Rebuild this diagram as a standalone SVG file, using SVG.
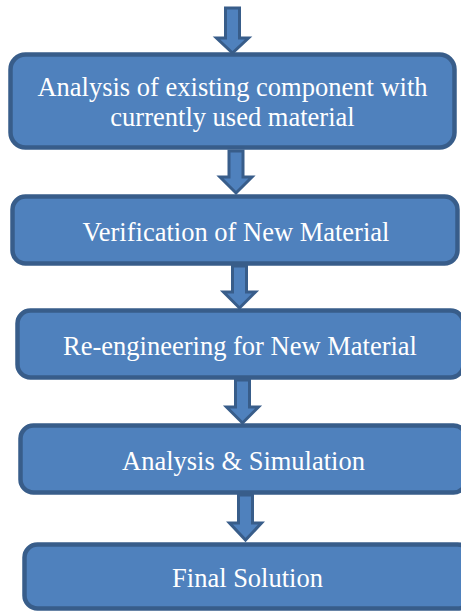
<svg xmlns="http://www.w3.org/2000/svg" width="461" height="612" viewBox="0 0 461 612">
  <style>
    .box { fill: #4f81bd; stroke: #385d8a; stroke-width: 4.5; }
    .arrow { fill: #4f81bd; stroke: #385d8a; stroke-width: 3; stroke-linejoin: miter; }
    .label { font-family: 'Liberation Serif', 'Times New Roman', serif; font-size: 26.5px; fill: #ffffff; text-anchor: middle; }
  </style>
  <rect width="461" height="612" fill="#ffffff"/>

  <!-- block arrows between the process steps -->
  <g id="connectors">
    <path class="arrow" d="M225.5,8 H239.5 V38 H248.5 L232.5,53 L216.5,38 H225.5 Z"/>
    <path class="arrow" d="M229,151 H243 V177 H252 L236,193 L220,177 H229 Z"/>
    <path class="arrow" d="M232.5,266 H246.5 V292 H255.5 L239.5,308 L223.5,292 H232.5 Z"/>
    <path class="arrow" d="M235.5,380 H249.5 V407 H258.5 L242.5,423 L226.5,407 H235.5 Z"/>
    <path class="arrow" d="M238.5,495 H252.5 V523 H261.5 L245.5,540 L229.5,523 H238.5 Z"/>
  </g>

  <g id="node-analysis-existing">
    <rect class="box" x="10.5" y="54.5" width="444" height="93" rx="15"/>
    <text class="label" x="232.5" y="96">Analysis of existing component with</text>
    <text class="label" x="232.5" y="126">currently used material</text>
  </g>

  <g id="node-verification">
    <rect class="box" x="12.5" y="196.5" width="445" height="67" rx="13"/>
    <text class="label" x="236" y="241">Verification of New Material</text>
  </g>

  <g id="node-reengineering">
    <rect class="box" x="17.5" y="310.5" width="446" height="67" rx="13"/>
    <text class="label" x="240" y="355">Re-engineering for New Material</text>
  </g>

  <g id="node-analysis-simulation">
    <rect class="box" x="20.5" y="425.5" width="446" height="67" rx="13"/>
    <text class="label" x="243.5" y="470">Analysis &amp; Simulation</text>
  </g>

  <g id="node-final-solution">
    <rect class="box" x="24.5" y="544.5" width="446" height="64" rx="13"/>
    <text class="label" x="247.5" y="587">Final Solution</text>
  </g>
</svg>
